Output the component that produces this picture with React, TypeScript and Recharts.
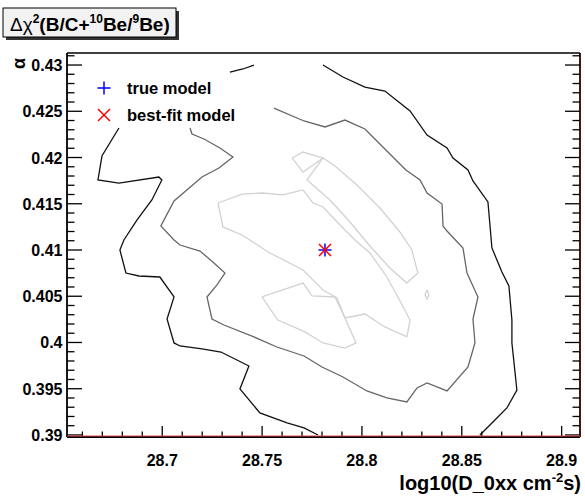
import { ScatterChart, Scatter, XAxis, YAxis } from "recharts";

const W = 585;
const H = 496;

// axis ranges (log10 D0xx, alpha)
const xDomain = [28.6523, 28.9092];
const yDomain = [0.38978, 0.4313];

const xMajor = [28.7, 28.75, 28.8, 28.85, 28.9];
const xTicks = [
  28.66, 28.67, 28.68, 28.69, 28.7, 28.71, 28.72, 28.73, 28.74, 28.75, 28.76, 28.77, 28.78,
  28.79, 28.8, 28.81, 28.82, 28.83, 28.84, 28.85, 28.86, 28.87, 28.88, 28.89, 28.9,
];
const yMajor = [0.39, 0.395, 0.4, 0.405, 0.41, 0.415, 0.42, 0.425, 0.43];
const yTicks = [
  0.39, 0.391, 0.392, 0.393, 0.394, 0.395, 0.396, 0.397, 0.398, 0.399, 0.4, 0.401, 0.402, 0.403,
  0.404, 0.405, 0.406, 0.407, 0.408, 0.409, 0.41, 0.411, 0.412, 0.413, 0.414, 0.415, 0.416, 0.417,
  0.418, 0.419, 0.42, 0.421, 0.422, 0.423, 0.424, 0.425, 0.426, 0.427, 0.428, 0.429, 0.43, 0.431,
];

// outer contour (black), in three visible pieces
const outerTopArc = [[28.7339, 0.42924], [28.7404, 0.42957], [28.7459, 0.43]];
const outerRight = [
  [28.7805, 0.43], [28.7905, 0.4287], [28.8015, 0.42762], [28.8115, 0.42719], [28.8241, 0.42503],
  [28.8326, 0.42243], [28.8426, 0.42103], [28.8456, 0.41995], [28.8531, 0.41865], [28.8556, 0.41746],
  [28.8631, 0.41519], [28.8651, 0.41022], [28.8701, 0.40762], [28.8736, 0.40611], [28.8751, 0.40243],
  [28.8751, 0.39995], [28.8776, 0.39486], [28.8726, 0.39292], [28.8666, 0.39162], [28.8591, 0.39],
];
const outerLeft = [
  [28.6783, 0.42319], [28.6698, 0.42016], [28.6678, 0.41757], [28.6783, 0.41724], [28.6983, 0.41789],
  [28.6998, 0.41757], [28.6948, 0.41541], [28.6873, 0.41324], [28.6808, 0.41108], [28.6788, 0.41],
  [28.6818, 0.40751], [28.6883, 0.40719], [28.6988, 0.40708], [28.7059, 0.40492], [28.7024, 0.40254],
  [28.7059, 0.39995], [28.7089, 0.39962], [28.7199, 0.3993], [28.7294, 0.39897], [28.7434, 0.39746],
  [28.7389, 0.39497], [28.7489, 0.39238], [28.7625, 0.3913], [28.771, 0.39076], [28.778, 0.39],
];

// middle contour (dark grey)
const middle = [
  [28.7559, 0.42535], [28.771, 0.42395], [28.7815, 0.4233], [28.7915, 0.42405], [28.8015, 0.42308],
  [28.8125, 0.4207], [28.822, 0.41865], [28.8291, 0.41757], [28.8326, 0.41616], [28.8401, 0.41497],
  [28.8406, 0.4126], [28.8426, 0.41205], [28.8506, 0.41022], [28.8526, 0.40751], [28.8581, 0.40492],
  [28.8556, 0.40254], [28.8566, 0.39995], [28.8531, 0.39735], [28.8426, 0.39476], [28.8326, 0.39562],
  [28.8276, 0.39508], [28.8225, 0.39357], [28.8125, 0.394], [28.8025, 0.39476], [28.7905, 0.39627],
  [28.78, 0.39735], [28.771, 0.39854], [28.7574, 0.39951], [28.7459, 0.4006], [28.7309, 0.40189],
  [28.7249, 0.40254], [28.7224, 0.40492], [28.7274, 0.40622], [28.7314, 0.40751], [28.7259, 0.4086],
  [28.7189, 0.40989], [28.7089, 0.41054], [28.7059, 0.41108], [28.6993, 0.4126], [28.7059, 0.4153],
  [28.7199, 0.41789], [28.7284, 0.41886], [28.7354, 0.42005], [28.7289, 0.42103], [28.7209, 0.422],
  [28.7149, 0.42254], [28.7139, 0.42319],
];

// inner contour (light grey) islands
const innerTri = [[28.765, 0.41995], [28.7705, 0.42059], [28.7805, 0.41995], [28.7705, 0.41843], [28.765, 0.41995]];
const innerBand = [
  [28.7805, 0.41995], [28.7865, 0.41908], [28.7975, 0.41703], [28.809, 0.41454], [28.819, 0.41195],
  [28.825, 0.41], [28.828, 0.40751], [28.8225, 0.40643], [28.814, 0.40805], [28.804, 0.41043],
  [28.794, 0.41303], [28.784, 0.41541], [28.7725, 0.41757], [28.7805, 0.41995],
];
const innerLeft = [
  [28.7279, 0.41508], [28.7399, 0.41605], [28.7504, 0.41616], [28.7604, 0.41595], [28.7705, 0.41649],
  [28.7755, 0.41508], [28.7805, 0.41465], [28.789, 0.4127], [28.7965, 0.41108], [28.804, 0.40968],
  [28.8125, 0.40708], [28.818, 0.40492], [28.8241, 0.40243], [28.8225, 0.4006], [28.8115, 0.40168],
  [28.8015, 0.40308], [28.7915, 0.40265], [28.7875, 0.40481], [28.7805, 0.40568], [28.7705, 0.40784],
  [28.7539, 0.40968], [28.7399, 0.41162], [28.7304, 0.41249], [28.7279, 0.41508],
];
const innerLow = [
  [28.7499, 0.40492], [28.7604, 0.40568], [28.7705, 0.40643], [28.775, 0.40503], [28.7865, 0.40492],
  [28.7915, 0.40265], [28.797, 0.39995], [28.7915, 0.3994], [28.7805, 0.39995], [28.7715, 0.40114],
  [28.7579, 0.40243], [28.7499, 0.40492],
];
const innerDot = [[28.8326, 0.40568], [28.8336, 0.40514], [28.8326, 0.4047], [28.8316, 0.40514], [28.8326, 0.40568]];

const trueModel = [[28.7815, 0.41]];
const bestFit = [[28.7815, 0.41]];

const pts = (a: number[][]) => a.map(([x, y]) => ({ x, y }));

const contours = [
  { data: innerTri, color: "#d2d2d2" },
  { data: innerBand, color: "#d2d2d2" },
  { data: innerLeft, color: "#d2d2d2" },
  { data: innerLow, color: "#d2d2d2" },
  { data: innerDot, color: "#d2d2d2" },
  { data: middle, color: "#666666" },
  { data: outerTopArc, color: "#111111" },
  { data: outerRight, color: "#111111" },
  { data: outerLeft, color: "#111111" },
];

const FONT = "'Liberation Sans', Arial, Helvetica, sans-serif";

const isMajor = (v: number, majors: number[]) => majors.some((m) => Math.abs(m - v) < 1e-7);

function BottomTick({ x, y, payload }: any) {
  const major = isMajor(payload.value, xMajor);
  return (
    <g>
      <line x1={x} x2={x} y1={y} y2={y - (major ? 11 : 5.5)} stroke="#000" strokeWidth={1.3} />
      {major && (
        <text x={x} y={y + 29} textAnchor="middle" fontSize={16} fontWeight="bold" fill="#000" fontFamily={FONT}>
          {payload.value}
        </text>
      )}
    </g>
  );
}

function TopTick({ x, y, payload }: any) {
  const major = isMajor(payload.value, xMajor);
  return <line x1={x} x2={x} y1={y} y2={y + (major ? 11 : 5.5)} stroke="#000" strokeWidth={1.3} />;
}

function LeftTick({ x, y, payload }: any) {
  const major = isMajor(payload.value, yMajor);
  return (
    <g>
      <line x1={x} x2={x + (major ? 15 : 7.5)} y1={y} y2={y} stroke="#000" strokeWidth={1.3} />
      {major && (
        <text x={x - 4.5} y={y + 6} textAnchor="end" fontSize={16} fontWeight="bold" fill="#000" fontFamily={FONT}>
          {payload.value}
        </text>
      )}
    </g>
  );
}

function RightTick({ x, y, payload }: any) {
  const major = isMajor(payload.value, yMajor);
  return <line x1={x} x2={x - (major ? 15 : 7.5)} y1={y} y2={y} stroke="#000" strokeWidth={1.3} />;
}

const PlusMark = ({ cx, cy }: any) => (
  <g stroke="#0000ff" strokeWidth={1.5}>
    <line x1={cx - 6.5} x2={cx + 6.5} y1={cy} y2={cy} />
    <line x1={cx} x2={cx} y1={cy - 6.5} y2={cy + 6.5} />
  </g>
);

const CrossMark = ({ cx, cy }: any) => (
  <g stroke="#ff0000" strokeWidth={1.5}>
    <line x1={cx - 6} x2={cx + 6} y1={cy - 6} y2={cy + 6} />
    <line x1={cx - 6} x2={cx + 6} y1={cy + 6} y2={cy - 6} />
  </g>
);

export default function App() {
  return (
    <div style={{ position: "absolute", left: 0, top: 0, width: W, height: H, background: "#fff", fontFamily: FONT }}>
      <ScatterChart width={W} height={H} margin={{ top: 52, right: 4, bottom: 9, left: 7 }}>
        <XAxis
          xAxisId={0}
          type="number"
          dataKey="x"
          domain={xDomain}
          allowDataOverflow
          ticks={xTicks}
          interval={0}
          height={50}
          tickSize={0}
          tickMargin={0}
          tickLine={false}
          axisLine={{ stroke: "#000", strokeWidth: 1.8 }}
          tick={<BottomTick />}
        />
        <XAxis
          xAxisId="top"
          orientation="top"
          type="number"
          domain={xDomain}
          allowDataOverflow
          ticks={xTicks}
          interval={0}
          height={1}
          tickSize={0}
          tickMargin={0}
          tickLine={false}
          axisLine={{ stroke: "#000", strokeWidth: 1.3 }}
          tick={<TopTick />}
        />
        <YAxis
          yAxisId={0}
          type="number"
          dataKey="y"
          domain={yDomain}
          allowDataOverflow
          ticks={yTicks}
          interval={0}
          width={60}
          tickSize={0}
          tickMargin={0}
          tickLine={false}
          axisLine={{ stroke: "#000", strokeWidth: 1.8 }}
          tick={<LeftTick />}
        />
        <YAxis
          yAxisId="right"
          orientation="right"
          type="number"
          domain={yDomain}
          allowDataOverflow
          ticks={yTicks}
          interval={0}
          width={1}
          tickSize={0}
          tickMargin={0}
          tickLine={false}
          axisLine={{ stroke: "#2a0000", strokeWidth: 1.8 }}
          tick={<RightTick />}
        />
        {contours.map((c, i) => (
          <Scatter
            key={i}
            data={pts(c.data)}
            line={{ stroke: c.color, strokeWidth: 1.3 }}
            lineType="joint"
            shape={() => <g />}
            isAnimationActive={false}
          />
        ))}
        <Scatter data={pts(trueModel)} shape={<PlusMark />} isAnimationActive={false} />
        <Scatter data={pts(bestFit)} shape={<CrossMark />} isAnimationActive={false} />
      </ScatterChart>

      <svg width={W} height={H} style={{ position: "absolute", left: 0, top: 0, pointerEvents: "none" }} fontFamily={FONT}>
        {/* thin red edge along the bottom of the frame */}
        <line x1={67} x2={580} y1={436} y2={436} stroke="#e04848" strokeWidth={1} />

        {/* title pave with shadow */}
        <rect x={6} y={11} width={173} height={29} fill="#333" />
        <rect x={3} y={8} width={173} height={29} fill="#f2f2f2" stroke="#000" strokeWidth={1} />
        <text x={10} y={31} fontSize={19} fontWeight="bold" fill="#000">
          <tspan fontWeight="normal">Δχ</tspan>
          <tspan fontSize={12} dy={-8}>2</tspan>
          <tspan dy={8}>(B/C+</tspan>
          <tspan fontSize={12} dy={-8}>10</tspan>
          <tspan dy={8}>Be/</tspan>
          <tspan fontSize={12} dy={-8}>9</tspan>
          <tspan dy={8}>Be)</tspan>
        </text>

        {/* legend */}
        <g stroke="#0000ff" strokeWidth={1.5}>
          <line x1={97.5} x2={110.5} y1={88} y2={88} />
          <line x1={104} x2={104} y1={81.5} y2={94.5} />
        </g>
        <g stroke="#ff0000" strokeWidth={1.5}>
          <line x1={98} x2={110} y1={109} y2={121} />
          <line x1={98} x2={110} y1={121} y2={109} />
        </g>
        <text x={127} y={93.5} fontSize={16.5} fontWeight="bold" fill="#000">true model</text>
        <text x={127} y={120.5} fontSize={16.5} fontWeight="bold" fill="#000">best-fit model</text>

        {/* axis titles */}
        <text x={581} y={490} textAnchor="end" fontSize={20} fontWeight="bold" fill="#000">
          log10(D_0xx cm<tspan fontSize={13} dy={-8}>-2</tspan>
          <tspan dy={8}>s)</tspan>
        </text>
        <text x={25} y={58} transform="rotate(-90 25 58)" textAnchor="end" fontSize={18} fontWeight="bold" fill="#000">
          α
        </text>
      </svg>
    </div>
  );
}
